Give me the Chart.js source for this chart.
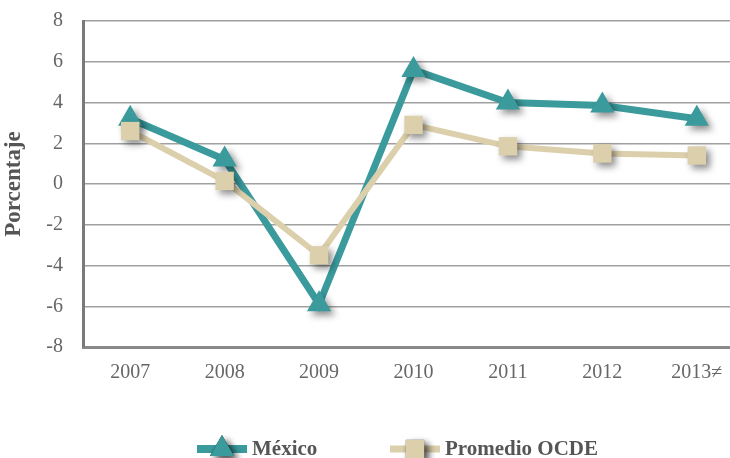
<!DOCTYPE html>
<html>
<head>
<meta charset="utf-8">
<script src="https://cdn.jsdelivr.net/npm/chart.js@4.4.0/dist/chart.umd.min.js"></script>
<style>
  html, body { margin: 0; padding: 0; background: #fff; overflow: hidden; }
  #wrap { width: 750px; height: 458px; }
</style>
</head>
<body>
<div id="wrap"><canvas id="c" width="750" height="458"></canvas></div>
<script>
// data
var years = ['2007', '2008', '2009', '2010', '2011', '2012', '2013\u2260'];
var mexico = [3.2, 1.2, -5.9, 5.6, 4.0, 3.85, 3.2];
var ocde = [2.6, 0.15, -3.5, 2.9, 1.85, 1.5, 1.4];
var yTicks = [-8, -6, -4, -2, 0, 2, 4, 6, 8];

var TEAL = '#3a9a9c';
var BEIGE = '#dccfab';
var SERIF = '"Liberation Serif", "DejaVu Serif", serif';

function setShadow(ctx) {
  ctx.shadowColor = 'rgba(0,0,0,0.45)';
  ctx.shadowBlur = 7;
  ctx.shadowOffsetX = 4;
  ctx.shadowOffsetY = 4;
}

// drop shadow under the markers only (the line itself is drawn flat)
var shadowPlugin = {
  id: 'shadow',
  beforeDatasetDraw: function(chart, args) {
    var line = args.meta.dataset;
    if (line && !line._flat) {
      var orig = line.draw;
      line.draw = function(ctx, area) {
        ctx.save();
        ctx.shadowColor = 'transparent';
        orig.call(this, ctx, area);
        ctx.restore();
      };
      line._flat = true;
    }
    chart.ctx.save();
    setShadow(chart.ctx);
  },
  afterDatasetDraw: function(chart) {
    chart.ctx.restore();
  }
};

// bottom legend: line segment with marker, then bold label
var legendPlugin = {
  id: 'lineLegend',
  afterDraw: function(chart) {
    var ctx = chart.ctx;
    var y = 449;
    var starts = [197, 390];
    ctx.save();
    ctx.font = 'bold 21px ' + SERIF;
    ctx.textBaseline = 'middle';
    chart.data.datasets.forEach(function(ds, i) {
      var x = starts[i];
      ctx.shadowColor = 'transparent';
      ctx.strokeStyle = ds.borderColor;
      ctx.lineWidth = ds.borderWidth + 1;
      ctx.beginPath();
      ctx.moveTo(x, y);
      ctx.lineTo(x + 50, y);
      ctx.stroke();
      setShadow(ctx);
      Chart.helpers.drawPoint(ctx, {
        pointStyle: ds.pointStyle,
        radius: ds.pointRadius,
        borderWidth: 0
      }, x + 25, y);
      ctx.fillStyle = ds.pointBackgroundColor;
      ctx.fill();
      ctx.shadowColor = 'transparent';
      ctx.fillStyle = '#555';
      ctx.fillText(ds.label, x + 55, y + 1);
    });
    ctx.restore();
  }
};

new Chart(document.getElementById('c'), {
  type: 'line',
  data: {
    labels: years,
    datasets: [
      {
        label: 'M\u00e9xico',
        data: mexico,
        borderColor: TEAL,
        borderWidth: 7,
        pointStyle: 'triangle',
        pointRadius: 14,
        pointBackgroundColor: TEAL,
        pointBorderWidth: 0,
        order: 1,
        tension: 0
      },
      {
        label: 'Promedio OCDE',
        data: ocde,
        borderColor: BEIGE,
        borderWidth: 6,
        pointStyle: 'rect',
        pointRadius: 13,
        pointBackgroundColor: BEIGE,
        pointBorderWidth: 0,
        order: 0,
        tension: 0
      }
    ]
  },
  options: {
    responsive: false,
    animation: false,
    devicePixelRatio: 1,
    layout: { autoPadding: false, padding: { top: 21, right: 6, left: 0, bottom: 0 } },
    plugins: {
      legend: { display: false },
      tooltip: { enabled: false }
    },
    scales: {
      x: {
        type: 'category',
        offset: true,
        grid: { display: false, drawTicks: false },
        border: { display: true, color: '#8a8a8a', width: 3 },
        ticks: {
          color: '#666',
          padding: 14,
          maxRotation: 0,
          font: { family: SERIF, size: 20 }
        },
        afterFit: function(scale) { scale.height = 111; }
      },
      y: {
        min: -8,
        max: 8,
        afterBuildTicks: function(scale) {
          scale.ticks = yTicks.map(function(v) { return { value: v }; });
        },
        grid: { color: '#a0a0a0', lineWidth: 1.5, drawTicks: false },
        border: { display: true, color: '#7a7a7a', width: 3 },
        ticks: {
          color: '#666',
          padding: 20,
          font: { family: SERIF, size: 20 }
        },
        title: {
          display: true,
          text: 'Porcentaje',
          color: '#555',
          padding: { top: 0, bottom: 0 },
          font: { family: SERIF, size: 23, weight: 'bold' }
        },
        afterFit: function(scale) {
          scale.width = 83;
          // tick padding would otherwise push the plot top down
          scale.paddingTop = 10;
          scale.paddingBottom = 10;
        }
      }
    }
  },
  plugins: [shadowPlugin, legendPlugin]
});
</script>
</body>
</html>
